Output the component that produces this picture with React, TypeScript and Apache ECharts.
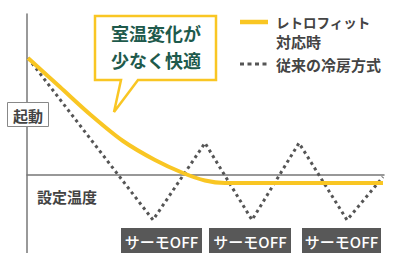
import React, { useEffect, useRef } from "react";
import * as echarts from "echarts";

// x in px-like units from the vertical axis, y in units of 10px above the set temperature
const retrofitX = [1, 33, 65, 96, 128, 156, 178, 198, 356];
const retrofitY = [11.7, 8.8, 5.9, 3.4, 1.5, 0.2, -0.55, -0.8, -0.8];
const conventionalX = [1, 126, 178, 225, 272, 320, 356];
const conventionalY = [11.7, -4.5, 3.2, -4.5, 3.2, -4.5, -0.2];

const legendRetrofit = ["レトロフィット", "対応時"];
const legendConventional = "従来の冷房方式";
const bubbleLines = ["室温変化が", "少なく快適"];
const startLabel = "起動";
const setTempLabel = "設定温度";
const offLabel = "サーモOFF";

const FONT = '"Noto Sans CJK JP", "Noto Sans", sans-serif';
const YELLOW = "#f9c623";
const GRAY = "#555555";
const TEXT = "#444444";
const GREEN = "#1e5a4c";

export default function App() {
  const ref = useRef<HTMLDivElement>(null);
  useEffect(() => {
    if (!ref.current) return;
    const chart = echarts.init(ref.current, undefined, { renderer: "svg" });
    const offBoxes = [
      { x: 121, w: 81 },
      { x: 209, w: 82 },
      { x: 302, w: 79 },
    ];
    chart.setOption({
      animation: false,
      grid: { left: 27, right: 14, top: 14, bottom: 0 },
      xAxis: {
        type: "value",
        min: 0,
        max: 357,
        axisLine: { onZero: true, lineStyle: { color: "#777", width: 1.5 } },
        axisTick: { show: false },
        axisLabel: { show: false },
        splitLine: { show: false },
      },
      yAxis: {
        type: "value",
        min: -7.8,
        max: 16.1,
        axisLine: { show: true, onZero: true, lineStyle: { color: "#777", width: 1.5 } },
        axisTick: { show: false },
        axisLabel: { show: false },
        splitLine: { show: false },
      },
      series: [
        {
          type: "line",
          data: conventionalX.map((x, i) => [x, conventionalY[i]]),
          symbol: "none",
          lineStyle: { color: GRAY, width: 3, type: [3, 3.5], cap: "butt" },
          z: 2,
        },
        {
          type: "line",
          data: retrofitX.map((x, i) => [x, retrofitY[i]]),
          symbol: "none",
          smooth: 0.3,
          lineStyle: { color: YELLOW, width: 4, cap: "butt" },
          z: 3,
        },
      ],
      graphic: [
        {
          type: "polygon",
          shape: {
            points: [
              [95, 16],
              [216, 16],
              [216, 80],
              [138, 80],
              [114, 112],
              [121, 80],
              [95, 80],
            ],
          },
          style: { fill: "#fff", stroke: YELLOW, lineWidth: 2.5 },
          z: 10,
        },
        {
          type: "text",
          x: 111,
          y: 33,
          style: { text: bubbleLines[0], font: `bold 18px ${FONT}`, fill: GREEN, textVerticalAlign: "middle" },
          z: 11,
        },
        {
          type: "text",
          x: 111,
          y: 60,
          style: { text: bubbleLines[1], font: `bold 18px ${FONT}`, fill: GREEN, textVerticalAlign: "middle" },
          z: 11,
        },
        {
          type: "line",
          shape: { x1: 240, y1: 22, x2: 268, y2: 22 },
          style: { stroke: YELLOW, lineWidth: 4.5 },
          z: 10,
        },
        {
          type: "text",
          x: 276,
          y: 22,
          style: { text: legendRetrofit[0], font: `bold 13.5px ${FONT}`, fill: TEXT, textVerticalAlign: "middle" },
          z: 10,
        },
        {
          type: "text",
          x: 276,
          y: 41,
          style: { text: legendRetrofit[1], font: `bold 15px ${FONT}`, fill: TEXT, textVerticalAlign: "middle" },
          z: 10,
        },
        {
          type: "line",
          shape: { x1: 240, y1: 64, x2: 268, y2: 64 },
          style: { stroke: GRAY, lineWidth: 3, lineDash: [4, 3.5] },
          z: 10,
        },
        {
          type: "text",
          x: 276,
          y: 64,
          style: { text: legendConventional, font: `bold 15px ${FONT}`, fill: TEXT, textVerticalAlign: "middle" },
          z: 10,
        },
        {
          type: "rect",
          shape: { x: 7.5, y: 102.5, width: 41, height: 24 },
          style: { fill: "#fff", stroke: "#888", lineWidth: 1 },
          z: 10,
        },
        {
          type: "text",
          x: 28,
          y: 115,
          style: { text: startLabel, font: `bold 15px ${FONT}`, fill: TEXT, textAlign: "center", textVerticalAlign: "middle" },
          z: 11,
        },
        {
          type: "text",
          x: 37,
          y: 196,
          style: { text: setTempLabel, font: `bold 15px ${FONT}`, fill: TEXT, textVerticalAlign: "middle" },
          z: 10,
        },
        ...offBoxes.flatMap((b) => [
          {
            type: "rect",
            shape: { x: b.x, y: 228, width: b.w, height: 25 },
            style: { fill: "#585858" },
            z: 10,
          },
          {
            type: "text",
            x: b.x + b.w / 2,
            y: 241,
            style: { text: offLabel, font: `500 15px ${FONT}`, fill: "#fff", textAlign: "center", textVerticalAlign: "middle" },
            z: 11,
          },
        ]),
      ],
    });
    return () => chart.dispose();
  }, []);
  return <div ref={ref} style={{ position: "fixed", left: 0, top: 0, width: 398, height: 253, background: "#fff" }} />;
}
